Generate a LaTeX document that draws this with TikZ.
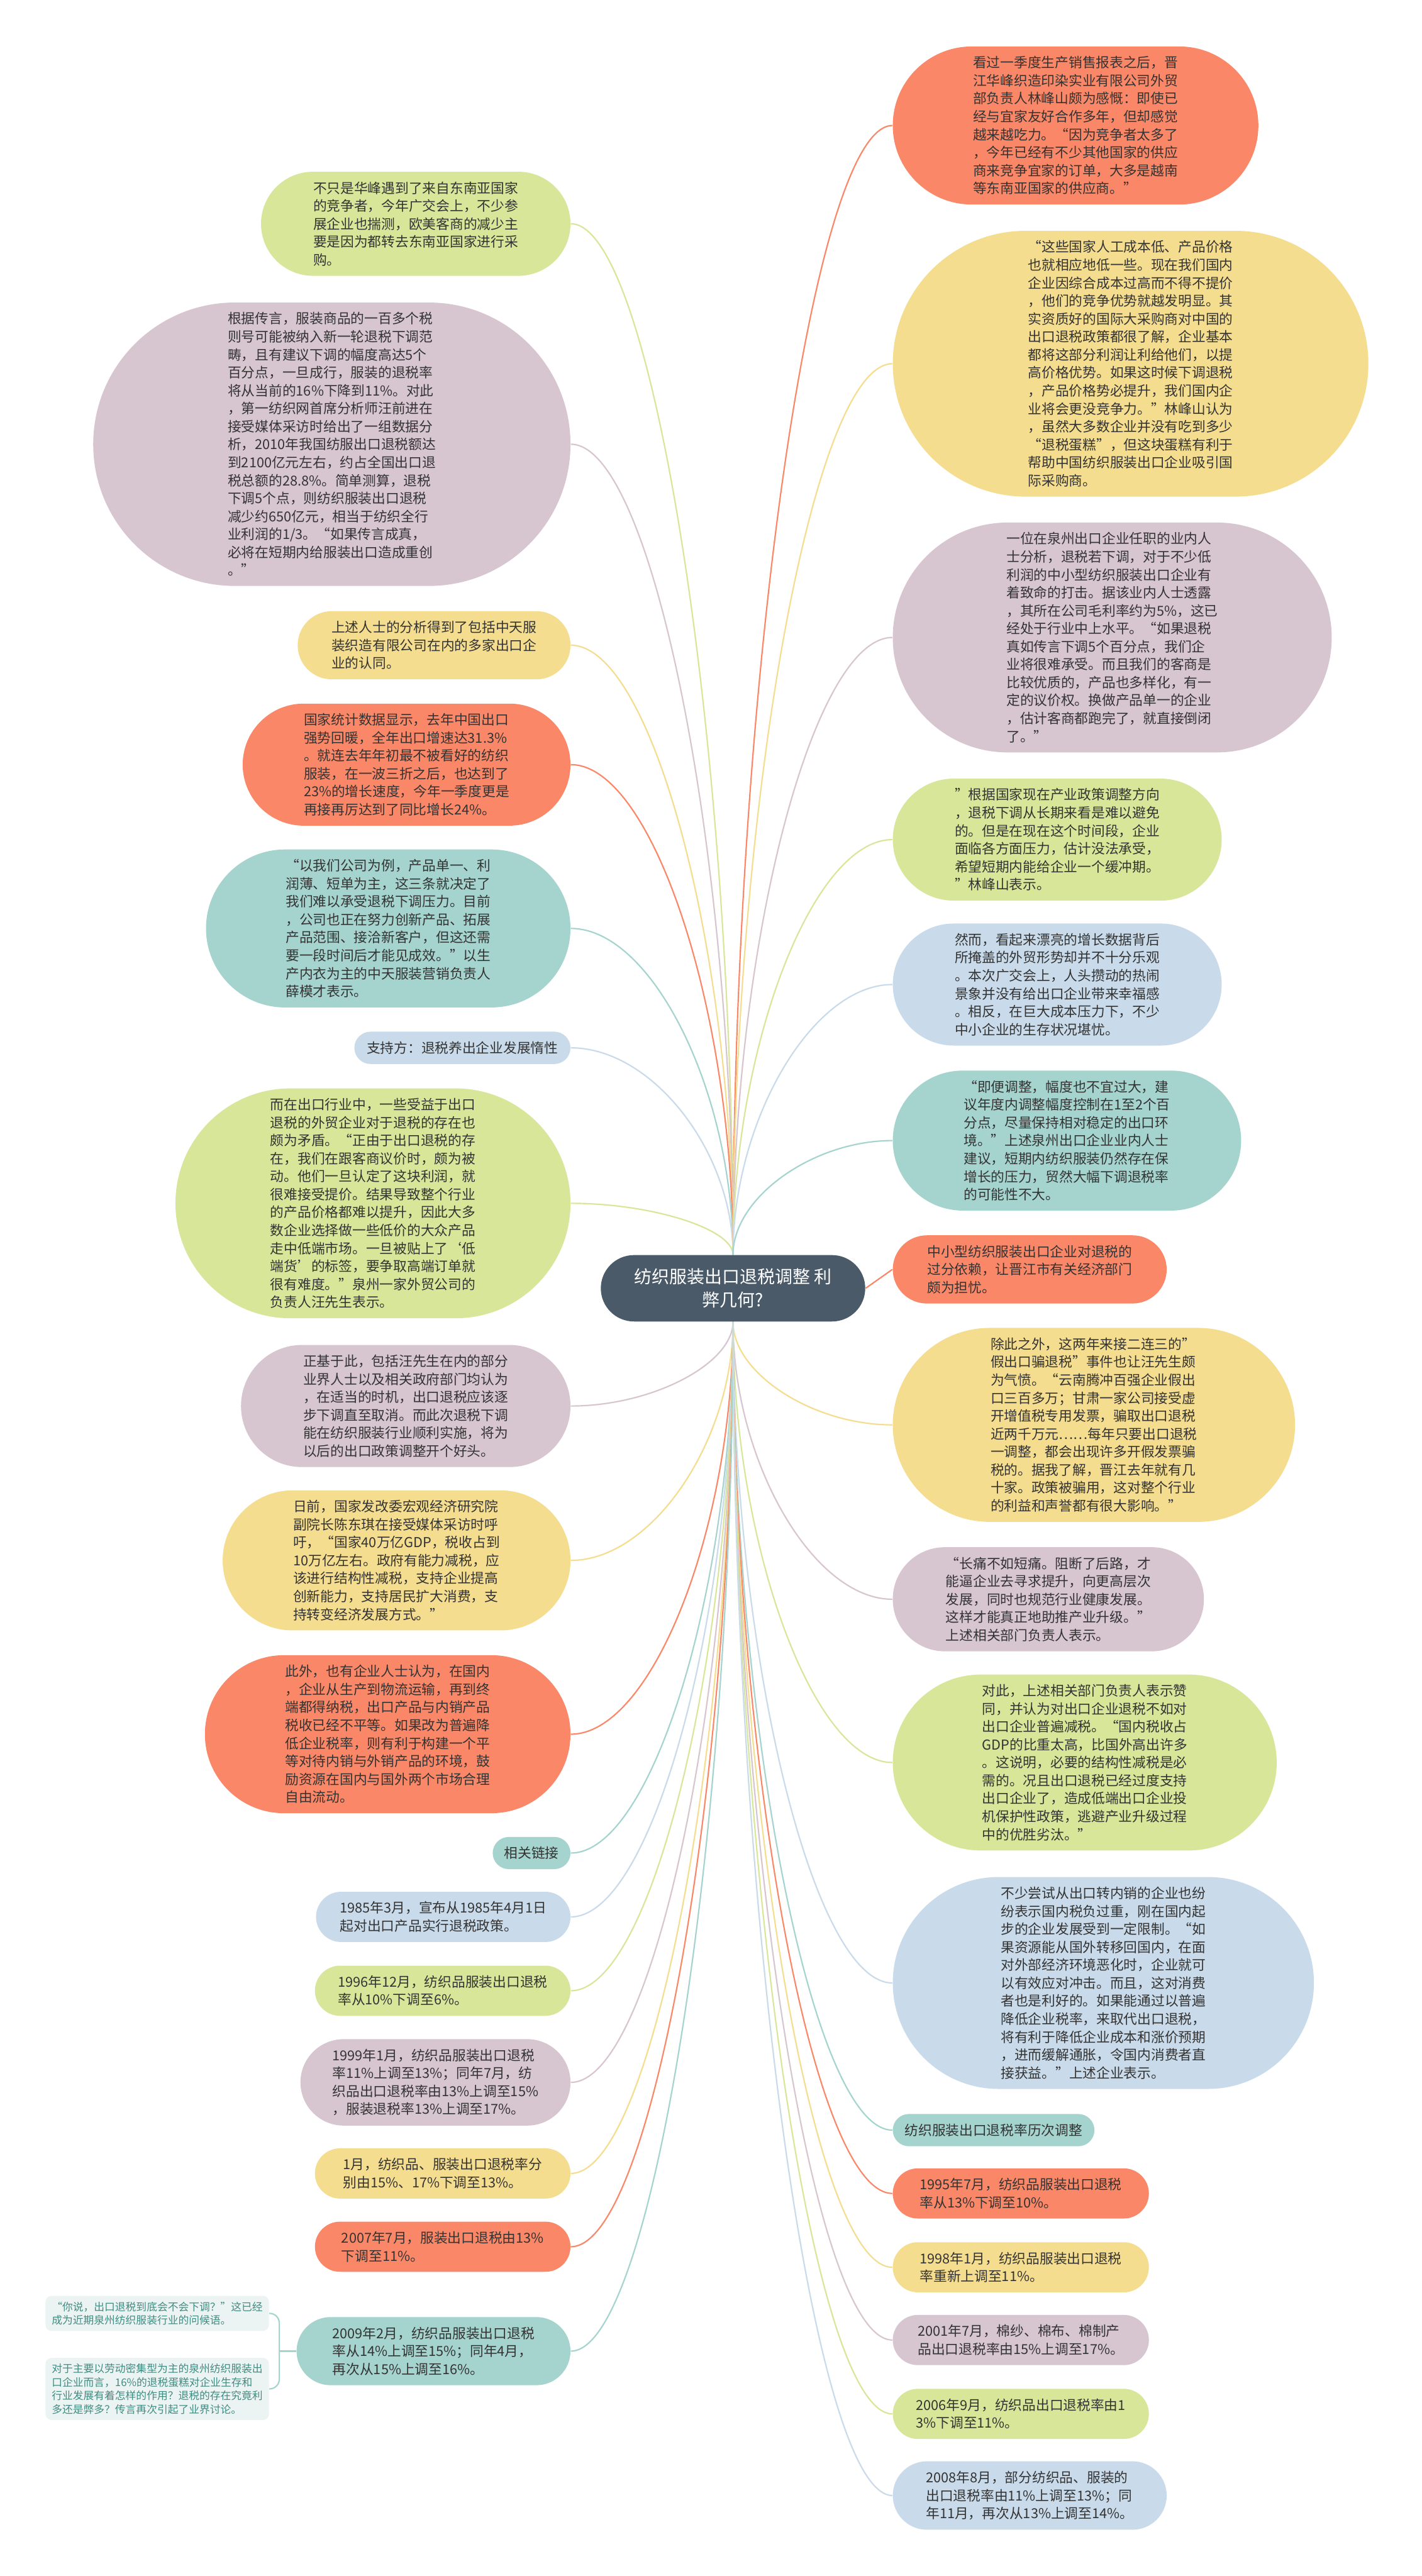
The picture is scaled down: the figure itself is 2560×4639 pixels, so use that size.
\documentclass[tikz,border=0pt]{standalone}
\usepackage{fontspec}
\setmainfont{Noto Sans CJK SC}
\usetikzlibrary{shapes.misc,backgrounds,calc}

\definecolor{cgreen}{HTML}{D8E69A}
\definecolor{cmauve}{HTML}{D7C5CF}
\definecolor{cyellow}{HTML}{F5DD8F}
\definecolor{corange}{HTML}{FA8868}
\definecolor{cteal}{HTML}{A5D4CF}
\definecolor{cblue}{HTML}{C9DBEA}
\definecolor{cslate}{HTML}{4A5A69}
\definecolor{cnote}{HTML}{EBF4F3}
\definecolor{cnotetxt}{HTML}{3F8C82}
\definecolor{ctext}{HTML}{333333}

\begin{document}
\begin{tikzpicture}[
    x=0.01cm, y=-0.01cm,
    pill/.style={rounded rectangle, fill=#1, align=left, text=ctext, inner xsep=2pt, inner ysep=5pt, font=\fontsize{7pt}{9.2pt}\selectfont},
    hub/.style={rounded rectangle, fill=cslate, text=white, align=center, inner xsep=4pt, minimum width=5.04cm, minimum height=34pt, font=\fontsize{9pt}{12pt}\selectfont},
    note/.style={rectangle, rounded corners=3pt, fill=cnote, text=cnotetxt, align=left, inner sep=3pt, minimum width=4.02cm, font=\fontsize{5.4pt}{6.9pt}\selectfont},
    link/.style={line width=0.7pt, draw=#1, to path={let \p1=(\tikztostart), \p2=(\tikztotarget) in .. controls ({(\x1+\x2)/2}, \y1) and (\x2, {(\y1+\y2)/2}) .. (\tikztotarget)}}
]
\useasboundingbox (0,0) rectangle (2560,4639);

% centre
\node[hub] (C) at (1320,2320) {纺织服装出口退税调整 利\\弊几何?};

% left side
\node[pill=cgreen, anchor=east, minimum width=5.71cm] (L1) at (1028,403) {不只是华峰遇到了来自东南亚国家\\的竞争者，今年广交会上，不少参\\展企业也揣测，欧美客商的减少主\\要是因为都转去东南亚国家进行采\\购。};
\node[pill=cmauve, anchor=east, minimum width=8.73cm] (L2) at (1028,800) {根据传言，服装商品的一百多个税\\则号可能被纳入新一轮退税下调范\\畴，且有建议下调的幅度高达5个\\百分点，一旦成行，服装的退税率\\将从当前的16\%下降到11\%。对此\\，第一纺织网首席分析师汪前进在\\接受媒体采访时给出了一组数据分\\析，2010年我国纺服出口退税额达\\到2100亿元左右，约占全国出口退\\税总额的28.8\%。简单测算，退税\\下调5个点，则纺织服装出口退税\\减少约650亿元，相当于纺织全行\\业利润的1/3。“如果传言成真，\\必将在短期内给服装出口造成重创\\。”};
\node[pill=cyellow, anchor=east, minimum width=5.05cm] (L3) at (1028,1162) {上述人士的分析得到了包括中天服\\装织造有限公司在内的多家出口企\\业的认同。};
\node[pill=corange, anchor=east, minimum width=6.04cm] (L4) at (1028,1377) {国家统计数据显示，去年中国出口\\强势回暖，全年出口增速达31.3\%\\。就连去年年初最不被看好的纺织\\服装，在一波三折之后，也达到了\\23\%的增长速度，今年一季度更是\\再接再厉达到了同比增长24\%。};
\node[pill=cteal, anchor=east, minimum width=6.70cm] (L5) at (1028,1672) {“以我们公司为例，产品单一、利\\润薄、短单为主，这三条就决定了\\我们难以承受退税下调压力。目前\\，公司也正在努力创新产品、拓展\\产品范围、接洽新客户，但这还需\\要一段时间后才能见成效。”以生\\产内衣为主的中天服装营销负责人\\薛模才表示。};
\node[pill=cblue, anchor=east, minimum width=4.03cm] (L6) at (1028,1887) {支持方：退税养出企业发展惰性};
\node[pill=cgreen, anchor=east, minimum width=7.25cm] (L7) at (1028,2167) {而在出口行业中，一些受益于出口\\退税的外贸企业对于退税的存在也\\颇为矛盾。“正由于出口退税的存\\在，我们在跟客商议价时，颇为被\\动。他们一旦认定了这块利润，就\\很难接受提价。结果导致整个行业\\的产品价格都难以提升，因此大多\\数企业选择做一些低价的大众产品\\走中低端市场。一旦被贴上了‘低\\端货’的标签，要争取高端订单就\\很有难度。”泉州一家外贸公司的\\负责人汪先生表示。};
\node[pill=cmauve, anchor=east, minimum width=6.07cm] (L8) at (1028,2532) {正基于此，包括汪先生在内的部分\\业界人士以及相关政府部门均认为\\，在适当的时机，出口退税应该逐\\步下调直至取消。而此次退税下调\\能在纺织服装行业顺利实施，将为\\以后的出口政策调整开个好头。};
\node[pill=cyellow, anchor=east, minimum width=6.40cm] (L9) at (1028,2810) {日前，国家发改委宏观经济研究院\\副院长陈东琪在接受媒体采访时呼\\吁，“国家40万亿GDP，税收占到\\10万亿左右。政府有能力减税，应\\该进行结构性减税，支持企业提高\\创新能力，支持居民扩大消费，支\\持转变经济发展方式。”};
\node[pill=corange, anchor=east, minimum width=6.72cm] (L10) at (1028,3123) {此外，也有企业人士认为，在国内\\，企业从生产到物流运输，再到终\\端都得纳税，出口产品与内销产品\\税收已经不平等。如果改为普遍降\\低企业税率，则有利于构建一个平\\等对待内销与外销产品的环境，鼓\\励资源在国内与国外两个市场合理\\自由流动。};
\node[pill=cteal, anchor=east, minimum width=1.54cm] (L11) at (1028,3337) {相关链接};
\node[pill=cblue, anchor=east, minimum width=4.72cm] (L12) at (1028,3452) {1985年3月，宣布从1985年4月1日\\起对出口产品实行退税政策。};
\node[pill=cgreen, anchor=east, minimum width=4.74cm] (L13) at (1028,3585) {1996年12月，纺织品服装出口退税\\率从10\%下调至6\%。};
\node[pill=cmauve, anchor=east, minimum width=5.00cm] (L14) at (1028,3750) {1999年1月，纺织品服装出口退税\\率11\%上调至13\%；同年7月，纺\\织品出口退税率由13\%上调至15\%\\，服装退税率13\%上调至17\%。};
\node[pill=cyellow, anchor=east, minimum width=4.74cm] (L15) at (1028,3914) {1月，纺织品、服装出口退税率分\\别由15\%、17\%下调至13\%。};
\node[pill=corange, anchor=east, minimum width=4.74cm] (L16) at (1028,4046) {2007年7月，服装出口退税由13\%\\下调至11\%。};
\node[pill=cteal, anchor=east, minimum width=5.07cm] (L17) at (1028,4234) {2009年2月，纺织品服装出口退税\\率从14\%上调至15\%；同年4月，\\再次从15\%上调至16\%。};

% notes
\node[note, anchor=east] (S1) at (485,4166) {“你说，出口退税到底会不会下调？”这已经\\成为近期泉州纺织服装行业的问候语。};
\node[note, anchor=east] (S2) at (485,4302) {对于主要以劳动密集型为主的泉州纺织服装出\\口企业而言，16\%的退税蛋糕对企业生存和\\行业发展有着怎样的作用？退税的存在究竟利\\多还是弊多？传言再次引起了业界讨论。};
\coordinate (br) at (503,4234);

% right side
\node[pill=corange, anchor=west, minimum width=6.72cm] (R1) at (1607,226) {看过一季度生产销售报表之后，晋\\江华峰织造印染实业有限公司外贸\\部负责人林峰山颇为感慨：即使已\\经与宜家友好合作多年，但却感觉\\越来越吃力。“因为竞争者太多了\\，今年已经有不少其他国家的供应\\商来竞争宜家的订单，大多是越南\\等东南亚国家的供应商。”};
\node[pill=cyellow, anchor=west, minimum width=8.70cm] (R2) at (1607,655) {“这些国家人工成本低、产品价格\\也就相应地低一些。现在我们国内\\企业因综合成本过高而不得不提价\\，他们的竞争优势就越发明显。其\\实资质好的国际大采购商对中国的\\出口退税政策都很了解，企业基本\\都将这部分利润让利给他们，以提\\高价格优势。如果这时候下调退税\\，产品价格势必提升，我们国内企\\业将会更没竞争力。”林峰山认为\\，虽然大多数企业并没有吃到多少\\“退税蛋糕”，但这块蛋糕有利于\\帮助中国纺织服装出口企业吸引国\\际采购商。};
\node[pill=cmauve, anchor=west, minimum width=8.04cm] (R3) at (1607,1148) {一位在泉州出口企业任职的业内人\\士分析，退税若下调，对于不少低\\利润的中小型纺织服装出口企业有\\着致命的打击。据该业内人士透露\\，其所在公司毛利率约为5\%，这已\\经处于行业中上水平。“如果退税\\真如传言下调5个百分点，我们企\\业将很难承受。而且我们的客商是\\比较优质的，产品也多样化，有一\\定的议价权。换做产品单一的企业\\，估计客商都跑完了，就直接倒闭\\了。”};
\node[pill=cgreen, anchor=west, minimum width=6.06cm] (R4) at (1607,1512) {”根据国家现在产业政策调整方向\\，退税下调从长期来看是难以避免\\的。但是在现在这个时间段，企业\\面临各方面压力，估计没法承受，\\希望短期内能给企业一个缓冲期。\\”林峰山表示。};
\node[pill=cblue, anchor=west, minimum width=6.06cm] (R5) at (1607,1773) {然而，看起来漂亮的增长数据背后\\所掩盖的外贸形势却并不十分乐观\\。本次广交会上，人头攒动的热闹\\景象并没有给出口企业带来幸福感\\。相反，在巨大成本压力下，不少\\中小企业的生存状况堪忧。};
\node[pill=cteal, anchor=west, minimum width=6.41cm] (R6) at (1607,2054) {“即便调整，幅度也不宜过大，建\\议年度内调整幅度控制在1至2个百\\分点，尽量保持相对稳定的出口环\\境。”上述泉州出口企业业内人士\\建议，短期内纺织服装仍然存在保\\增长的压力，贸然大幅下调退税率\\的可能性不大。};
\node[pill=corange, anchor=west, minimum width=5.07cm] (R7) at (1607,2286) {中小型纺织服装出口企业对退税的\\过分依赖，让晋江市有关经济部门\\颇为担忧。};
\node[pill=cyellow, anchor=west, minimum width=7.38cm] (R8) at (1607,2566) {除此之外，这两年来接二连三的”\\假出口骗退税”事件也让汪先生颇\\为气愤。“云南腾冲百强企业假出\\口三百多万；甘肃一家公司接受虚\\开增值税专用发票，骗取出口退税\\近两千万元……每年只要出口退税\\一调整，都会出现许多开假发票骗\\税的。据我了解，晋江去年就有几\\十家。政策被骗用，这对整个行业\\的利益和声誉都有很大影响。”};
\node[pill=cmauve, anchor=west, minimum width=5.74cm] (R9) at (1607,2880) {“长痛不如短痛。阻断了后路，才\\能逼企业去寻求提升，向更高层次\\发展，同时也规范行业健康发展。\\这样才能真正地助推产业升级。”\\上述相关部门负责人表示。};
\node[pill=cgreen, anchor=west, minimum width=7.05cm] (R10) at (1607,3174) {对此，上述相关部门负责人表示赞\\同，并认为对出口企业退税不如对\\出口企业普遍减税。“国内税收占\\GDP的比重太高，比国外高出许多\\。这说明，必要的结构性减税是必\\需的。况且出口退税已经过度支持\\出口企业了，造成低端出口企业投\\机保护性政策，逃避产业升级过程\\中的优胜劣汰。”};
\node[pill=cblue, anchor=west, minimum width=7.72cm] (R11) at (1607,3571) {不少尝试从出口转内销的企业也纷\\纷表示国内税负过重，刚在国内起\\步的企业发展受到一定限制。“如\\果资源能从国外转移回国内，在面\\对外部经济环境恶化时，企业就可\\以有效应对冲击。而且，这对消费\\者也是利好的。如果能通过以普遍\\降低企业税率，来取代出口退税，\\将有利于降低企业成本和涨价预期\\，进而缓解通胀，令国内消费者直\\接获益。”上述企业表示。};
\node[pill=cteal, anchor=west, minimum width=3.77cm] (R12) at (1607,3836) {纺织服装出口退税率历次调整};
\node[pill=corange, anchor=west, minimum width=4.75cm] (R13) at (1607,3950) {1995年7月，纺织品服装出口退税\\率从13\%下调至10\%。};
\node[pill=cyellow, anchor=west, minimum width=4.75cm] (R14) at (1607,4083) {1998年1月，纺织品服装出口退税\\率重新上调至11\%。};
\node[pill=cmauve, anchor=west, minimum width=4.75cm] (R15) at (1607,4214) {2001年7月，棉纱、棉布、棉制产\\品出口退税率由15\%上调至17\%。};
\node[pill=cgreen, anchor=west, minimum width=4.75cm] (R16) at (1607,4347) {2006年9月，纺织品出口退税率由1\\3\%下调至11\%。};
\node[pill=cblue, anchor=west, minimum width=5.07cm] (R17) at (1607,4494) {2008年8月，部分纺织品、服装的\\出口退税率由11\%上调至13\%；同\\年11月，再次从13\%上调至14\%。};

% connectors
\begin{scope}[on background layer]
\fill[white] (0,0) rectangle (2560,4639);
\draw[link=cgreen] (L1.east) to (C.north);
\draw[link=cmauve] (L2.east) to (C.north);
\draw[link=cyellow] (L3.east) to (C.north);
\draw[link=corange] (L4.east) to (C.north);
\draw[link=cteal] (L5.east) to (C.north);
\draw[link=cblue] (L6.east) to (C.north);
\draw[link=cgreen] (L7.east) to (C.north);
\draw[link=cmauve] (L8.east) to (C.south);
\draw[link=cyellow] (L9.east) to (C.south);
\draw[link=corange] (L10.east) to (C.south);
\draw[link=cteal] (L11.east) to (C.south);
\draw[link=cblue] (L12.east) to (C.south);
\draw[link=cgreen] (L13.east) to (C.south);
\draw[link=cmauve] (L14.east) to (C.south);
\draw[link=cyellow] (L15.east) to (C.south);
\draw[link=corange] (L16.east) to (C.south);
\draw[link=cteal] (L17.east) to (C.south);
\draw[link=corange] (R1.west) to (C.north);
\draw[link=cyellow] (R2.west) to (C.north);
\draw[link=cmauve] (R3.west) to (C.north);
\draw[link=cgreen] (R4.west) to (C.north);
\draw[link=cblue] (R5.west) to (C.north);
\draw[link=cteal] (R6.west) to (C.north);
\draw[line width=0.7pt, corange] (C.east) -- (R7.west);
\draw[link=cyellow] (R8.west) to (C.south);
\draw[link=cmauve] (R9.west) to (C.south);
\draw[link=cgreen] (R10.west) to (C.south);
\draw[link=cblue] (R11.west) to (C.south);
\draw[link=cteal] (R12.west) to (C.south);
\draw[link=corange] (R13.west) to (C.south);
\draw[link=cyellow] (R14.west) to (C.south);
\draw[link=cmauve] (R15.west) to (C.south);
\draw[link=cgreen] (R16.west) to (C.south);
\draw[link=cblue] (R17.west) to (C.south);
\draw[line width=0.7pt, cteal, rounded corners=5pt] (S1.east) -- (S1.east -| br) -- (S2.east -| br) -- (S2.east);
\draw[line width=0.7pt, cteal] (br) -- (L17.west);
\end{scope}
\end{tikzpicture}
\end{document}
